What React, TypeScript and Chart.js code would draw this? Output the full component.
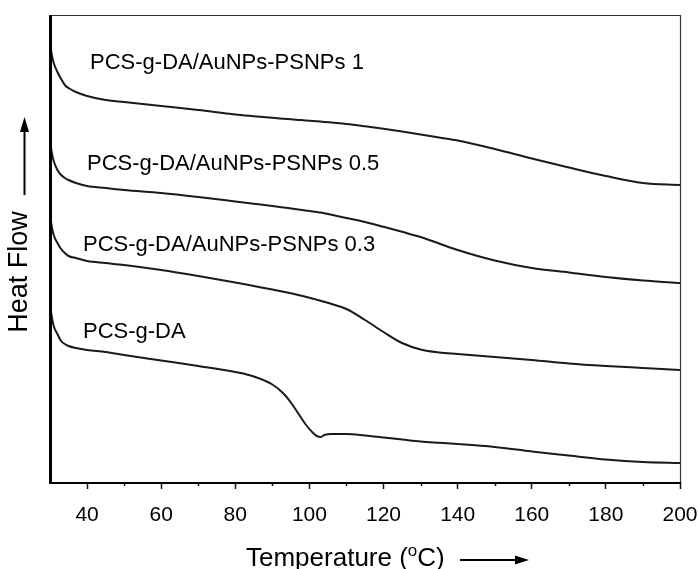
import React, { useEffect, useRef } from 'react';
import { Chart, registerables } from 'chart.js';

Chart.register(...registerables);

// Temperature grid (°C)
const TEMPERATURES = [30, 30.5, 31, 32, 33, 34, 35, 37, 40, 45, 50, 60, 70, 80, 85, 90, 93, 95, 97, 99, 101, 102, 103, 104, 106, 110, 115, 120, 125, 130, 135, 140, 150, 160, 170, 180, 190, 200];

// Heat flow (arbitrary units, offset curves)
const HF_PSNPS_1 = [440, 427, 419, 410, 403, 397, 394, 390, 386, 382, 380, 376, 372, 367.5, 365.8, 364.2, 363.3, 362.7, 362.1, 361.5, 361, 360.7, 360.4, 360.1, 359.4, 358, 355.7, 353.2, 350.5, 347.5, 344.5, 341.5, 333, 323.5, 314.5, 306, 299, 297];
const HF_PSNPS_05 = [342, 329, 321, 312, 307, 304, 302, 299, 296, 294, 292, 289, 285, 280.5, 278.2, 276, 274.6, 273.6, 272.6, 271.6, 270.6, 270, 269.4, 268.7, 267.2, 264, 260, 255.2, 250.2, 245, 238.5, 232, 221.5, 214, 209.5, 205, 201.5, 199];
const HF_PSNPS_03 = [267, 255, 247, 239, 233, 229, 226, 224, 221, 219, 217, 212, 206, 199.5, 196, 192.5, 190.3, 188.7, 187, 185.2, 183.3, 182.3, 181.3, 180.2, 178, 173, 162, 150, 139, 132.5, 129.5, 128, 125, 122, 118.5, 116, 114, 112];
const HF_PCS_G_DA = [177, 165, 156, 148, 141, 138, 136, 134, 132, 130, 127, 121.5, 116, 110, 105.5, 97.5, 88.5, 79.5, 68.5, 57.5, 49, 46, 45, 47, 48, 48, 46.5, 44.5, 42.5, 40.5, 39.2, 38, 35, 30.5, 26.5, 22.5, 20, 19];

const SERIES_NAMES = ['PCS-g-DA/AuNPs-PSNPs 1', 'PCS-g-DA/AuNPs-PSNPs 0.5', 'PCS-g-DA/AuNPs-PSNPs 0.3', 'PCS-g-DA'];
const SERIES_VALUES = [HF_PSNPS_1, HF_PSNPS_05, HF_PSNPS_03, HF_PCS_G_DA];

// Label anchors in data units (left edge, vertical centre)
const LABEL_T = [40.8, 40.0, 38.9, 38.9];
const LABEL_HF = [419, 318, 237, 150];

const X_TICKS = [40, 60, 80, 100, 120, 140, 160, 180, 200];
const X_MINOR_TICKS = [50, 70, 90, 110, 130, 150, 170, 190];

const X_TITLE_MAIN = 'Temperature (';
const X_TITLE_SUP = 'o';
const X_TITLE_END = 'C)';
const Y_TITLE = 'Heat Flow';

const FONT = '"Liberation Sans", Arial, Helvetica, sans-serif';

const decorPlugin = {
  id: 'decor',
  afterDraw(chart: any) {
    const { ctx, chartArea: a, scales } = chart;
    const xs = scales.x;
    const ys = scales.y;
    ctx.save();

    // minor ticks
    ctx.strokeStyle = '#111';
    ctx.lineWidth = 1.5;
    X_MINOR_TICKS.forEach((v) => {
      const px = Math.round(xs.getPixelForValue(v)) + 0.5;
      ctx.beginPath();
      ctx.moveTo(px, a.bottom);
      ctx.lineTo(px, a.bottom + 4);
      ctx.stroke();
    });

    // frame
    ctx.strokeStyle = '#333';
    ctx.lineWidth = 1.2;
    ctx.beginPath();
    ctx.moveTo(a.left, a.top + 0.5);
    ctx.lineTo(a.right, a.top + 0.5);
    ctx.moveTo(a.right + 0.5, a.top);
    ctx.lineTo(a.right + 0.5, a.bottom);
    ctx.stroke();

    ctx.strokeStyle = '#000';
    ctx.lineWidth = 2;
    ctx.beginPath();
    ctx.moveTo(a.left, a.bottom + 1);
    ctx.lineTo(a.right + 1, a.bottom + 1);
    ctx.stroke();

    ctx.lineWidth = 3;
    ctx.beginPath();
    ctx.moveTo(a.left + 0.5, a.top);
    ctx.lineTo(a.left + 0.5, a.bottom + 2);
    ctx.stroke();

    // series labels
    ctx.fillStyle = '#000';
    ctx.font = `22px ${FONT}`;
    ctx.textAlign = 'left';
    ctx.textBaseline = 'middle';
    SERIES_NAMES.forEach((name, i) => {
      ctx.fillText(name, xs.getPixelForValue(LABEL_T[i]), ys.getPixelForValue(LABEL_HF[i]));
    });

    // x title with superscript
    ctx.textBaseline = 'alphabetic';
    let x = 246;
    const base = 566;
    ctx.font = `26px ${FONT}`;
    ctx.fillText(X_TITLE_MAIN, x, base);
    x += ctx.measureText(X_TITLE_MAIN).width;
    ctx.font = `17px ${FONT}`;
    ctx.fillText(X_TITLE_SUP, x, base - 10);
    x += ctx.measureText(X_TITLE_SUP).width;
    ctx.font = `26px ${FONT}`;
    ctx.fillText(X_TITLE_END, x, base);

    // x arrow
    ctx.strokeStyle = '#000';
    ctx.lineWidth = 2;
    ctx.beginPath();
    ctx.moveTo(460, 560);
    ctx.lineTo(518, 560);
    ctx.stroke();
    ctx.beginPath();
    ctx.moveTo(529, 560);
    ctx.lineTo(515, 555.5);
    ctx.lineTo(515, 564.5);
    ctx.closePath();
    ctx.fill();

    // y title
    ctx.save();
    ctx.translate(20, 272);
    ctx.rotate(-Math.PI / 2);
    ctx.font = `27px ${FONT}`;
    ctx.textAlign = 'center';
    ctx.textBaseline = 'middle';
    ctx.fillText(Y_TITLE, 0, 0);
    ctx.restore();

    // y arrow
    ctx.beginPath();
    ctx.moveTo(24.5, 195);
    ctx.lineTo(24.5, 128);
    ctx.stroke();
    ctx.beginPath();
    ctx.moveTo(24.5, 117);
    ctx.lineTo(20, 132);
    ctx.lineTo(29, 132);
    ctx.closePath();
    ctx.fill();

    ctx.restore();
  },
};

export default function App() {
  const canvasRef = useRef<HTMLCanvasElement>(null);

  useEffect(() => {
    const canvas = canvasRef.current;
    if (!canvas) return;
    const chart = new Chart(canvas, {
      type: 'line',
      data: {
        datasets: SERIES_VALUES.map((vals, i) => ({
          label: SERIES_NAMES[i],
          data: TEMPERATURES.map((t, j) => ({ x: t, y: vals[j] })),
          borderColor: '#1a1a1a',
          borderWidth: 2,
          pointRadius: 0,
          fill: false,
          cubicInterpolationMode: 'monotone' as const,
        })),
      },
      options: {
        animation: false,
        responsive: true,
        maintainAspectRatio: false,
        layout: { padding: { left: 50, top: 15, right: 18, bottom: 0 } },
        plugins: {
          legend: { display: false },
          tooltip: { enabled: false },
        },
        scales: {
          x: {
            type: 'linear',
            min: 30,
            max: 200,
            afterBuildTicks: (s: any) => {
              s.ticks = X_TICKS.map((v) => ({ value: v }));
            },
            afterFit: (s: any) => {
              s.height = 87;
              s.paddingLeft = 0;
              s.paddingRight = 0;
            },
            grid: {
              display: true,
              drawOnChartArea: false,
              drawTicks: true,
              tickLength: 7,
              tickWidth: 1.5,
              tickColor: '#111',
            },
            border: { display: false },
            ticks: {
              padding: 14,
              color: '#000',
              autoSkip: false,
              maxRotation: 0,
              minRotation: 0,
              font: { family: FONT, size: 21 },
            },
          },
          y: {
            display: false,
            min: 0,
            max: 467,
          },
        },
      },
      plugins: [decorPlugin],
    });
    return () => chart.destroy();
  }, []);

  return (
    <div style={{ position: 'fixed', left: 0, top: 0, width: 698, height: 569, background: '#fff' }}>
      <canvas ref={canvasRef} style={{ display: 'block' }} />
    </div>
  );
}
